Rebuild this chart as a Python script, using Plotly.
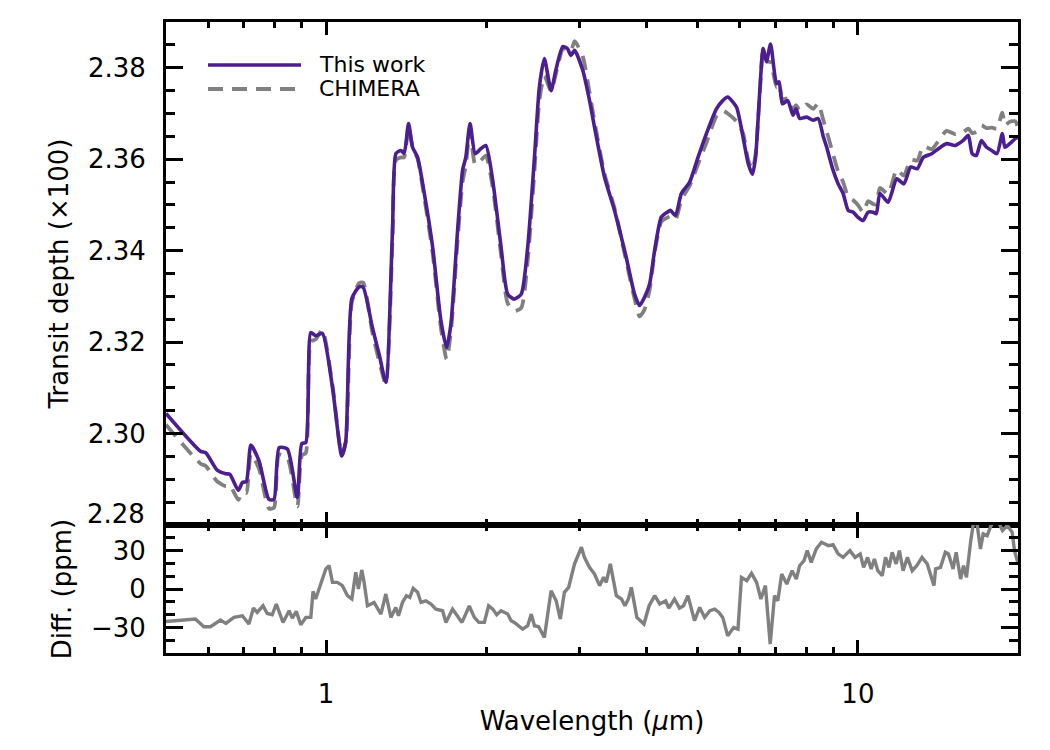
import plotly.graph_objects as go
import numpy as np

# ---------------- data ----------------
wavelength = [0.500, 0.581, 0.594, 0.624, 0.648, 0.659, 0.684, 0.696, 0.708, 0.722,
              0.748, 0.781, 0.798, 0.816, 0.846, 0.883, 0.900, 0.916, 0.936, 0.956,
              0.984, 1.028, 1.070, 1.089, 1.118, 1.154, 1.174, 1.222, 1.260, 1.295,
              1.333, 1.353, 1.382, 1.402, 1.429, 1.454, 1.486, 1.530, 1.586, 1.644,
              1.685, 1.717, 1.767, 1.806, 1.831, 1.865, 1.907, 1.954, 1.997, 2.057,
              2.133, 2.195, 2.258, 2.328, 2.394, 2.465, 2.518, 2.573, 2.649, 2.703,
              2.786, 2.842, 2.887, 2.933, 3.039, 3.128, 3.197, 3.338, 3.486, 3.668,
              3.802, 3.886, 3.969, 4.058, 4.147, 4.268, 4.380, 4.440, 4.540, 4.656,
              4.827, 5.004, 5.190, 5.420, 5.570, 5.690, 5.910, 6.080, 6.220, 6.334,
              6.420, 6.540, 6.635, 6.730, 6.850, 7.030, 7.110, 7.210, 7.380, 7.550,
              7.650, 7.770, 8.010, 8.240, 8.420, 8.610, 8.730, 8.980, 9.180, 9.380,
              9.590, 9.800, 10.00, 10.23, 10.45, 10.68, 10.83, 11.00, 11.40, 11.83,
              12.20, 12.57, 12.93, 13.27, 13.77, 14.17, 14.68, 15.23, 15.78, 16.13,
              16.40, 16.70, 17.07, 17.45, 17.85, 18.26, 18.69, 18.90, 19.30, 19.76,
              20.00]

this_work = [2.3044, 2.2961, 2.2958, 2.2920, 2.2912, 2.2911, 2.2876, 2.2893, 2.2895, 2.2975,
             2.2940, 2.2856, 2.2856, 2.2969, 2.2966, 2.2860, 2.2978, 2.2980, 2.3221, 2.3214,
             2.3219, 2.3101, 2.2951, 2.2984, 2.3295, 2.3321, 2.3320, 2.3232, 2.3170, 2.3112,
             2.3444, 2.3612, 2.3619, 2.3613, 2.3678, 2.3626, 2.3604, 2.3525, 2.3408, 2.3247,
             2.3188, 2.3240, 2.3444, 2.3576, 2.3604, 2.3678, 2.3612, 2.3623, 2.3630, 2.3554,
             2.3408, 2.3305, 2.3294, 2.3305, 2.3408, 2.3604, 2.3758, 2.3820, 2.3750, 2.3794,
             2.3846, 2.3842, 2.3827, 2.3838, 2.3794, 2.3729, 2.3670, 2.3561, 2.3488, 2.3385,
             2.3305, 2.3280, 2.3298, 2.3327, 2.3400, 2.3473, 2.3484, 2.3488, 2.3477, 2.3525,
             2.3550, 2.3604, 2.3656, 2.3710, 2.3728, 2.3736, 2.3714, 2.3649, 2.3590, 2.3567,
             2.3604, 2.3751, 2.3842, 2.3813, 2.3852, 2.3765, 2.3769, 2.3721, 2.3728, 2.3696,
             2.3710, 2.3689, 2.3692, 2.3685, 2.3689, 2.3649, 2.3627, 2.3576, 2.3546, 2.3525,
             2.3488, 2.3484, 2.3473, 2.3466, 2.3484, 2.3484, 2.3481, 2.3525, 2.3506, 2.3557,
             2.3546, 2.3583, 2.3579, 2.3604, 2.3612, 2.3623, 2.3634, 2.3630, 2.3641, 2.3652,
             2.3612, 2.3608, 2.3641, 2.3626, 2.3619, 2.3612, 2.3656, 2.3626, 2.3634, 2.3645,
             2.3649]

chimera = [2.3019, 2.2934, 2.2929, 2.2895, 2.2885, 2.2887, 2.2855, 2.2872, 2.2870, 2.2955,
           2.2923, 2.2836, 2.2838, 2.2954, 2.2947, 2.2840, 2.2952, 2.2958, 2.3201, 2.3206,
           2.3227, 2.3106, 2.2954, 2.2981, 2.3287, 2.3329, 2.3330, 2.3221, 2.3155, 2.3108,
           2.3424, 2.3598, 2.3604, 2.3604, 2.3672, 2.3626, 2.3601, 2.3516, 2.3395, 2.3231,
           2.3163, 2.3223, 2.3423, 2.3551, 2.3586, 2.3664, 2.3589, 2.3597, 2.3608, 2.3539,
           2.3391, 2.3285, 2.3268, 2.3275, 2.3379, 2.3575, 2.3729, 2.3782, 2.3749, 2.3785,
           2.3841, 2.3842, 2.3837, 2.3858, 2.3824, 2.3746, 2.3682, 2.3568, 2.3493, 2.3377,
           2.3295, 2.3256, 2.3271, 2.3314, 2.3395, 2.3463, 2.3472, 2.3475, 2.3468, 2.3511,
           2.3542, 2.3589, 2.3636, 2.3694, 2.3706, 2.3700, 2.3683, 2.3657, 2.3598, 2.3578,
           2.3610, 2.3745, 2.3842, 2.3815, 2.3812, 2.3758, 2.3764, 2.3731, 2.3733, 2.3708,
           2.3718, 2.3707, 2.3720, 2.3710, 2.3722, 2.3685, 2.3662, 2.3611, 2.3573, 2.3550,
           2.3517, 2.3510, 2.3500, 2.3484, 2.3508, 2.3502, 2.3501, 2.3537, 2.3524, 2.3577,
           2.3564, 2.3599, 2.3597, 2.3628, 2.3622, 2.3640, 2.3662, 2.3655, 2.3659, 2.3667,
           2.3657, 2.3660, 2.3674, 2.3668, 2.3669, 2.3667, 2.3702, 2.3674, 2.3682, 2.3683,
           2.3669]

diff_wavelength = [0.500, 0.568, 0.589, 0.606, 0.633, 0.648, 0.671, 0.696, 0.716, 0.730,
                   0.742, 0.761, 0.775, 0.792, 0.806, 0.830, 0.852, 0.864, 0.879, 0.896,
                   0.916, 0.936, 0.945, 0.956, 0.977, 0.999, 1.013, 1.028, 1.050, 1.073,
                   1.097, 1.118, 1.137, 1.150, 1.167, 1.179, 1.196, 1.231, 1.268, 1.295,
                   1.324, 1.352, 1.368, 1.392, 1.416, 1.437, 1.458, 1.486, 1.508, 1.540,
                   1.575, 1.609, 1.656, 1.680, 1.729, 1.767, 1.801, 1.859, 1.900, 1.937,
                   1.984, 2.021, 2.058, 2.093, 2.133, 2.195, 2.228, 2.259, 2.342, 2.394,
                   2.431, 2.465, 2.510, 2.573, 2.649, 2.708, 2.757, 2.806, 2.858, 2.932,
                   3.021, 3.060, 3.128, 3.197, 3.268, 3.325, 3.364, 3.423, 3.514, 3.593,
                   3.647, 3.702, 3.750, 3.840, 3.960, 4.050, 4.150, 4.240, 4.350, 4.410,
                   4.520, 4.620, 4.700, 4.790, 4.930, 5.040, 5.150, 5.270, 5.380, 5.480,
                   5.570, 5.690, 5.840, 5.950, 6.040, 6.180, 6.310, 6.450, 6.570, 6.700,
                   6.840, 6.970, 7.070, 7.190, 7.350, 7.520, 7.660, 7.770, 7.920, 8.030,
                   8.170, 8.350, 8.540, 8.800, 8.980, 9.180, 9.380, 9.660, 9.880, 10.10,
                   10.25, 10.43, 10.59, 10.74, 10.90, 11.11, 11.27, 11.44, 11.60, 11.80,
                   11.97, 12.16, 12.39, 12.65, 12.90, 13.20, 13.50, 13.90, 14.00, 14.30,
                   14.60, 14.80, 15.10, 15.30, 15.60, 15.80, 16.00, 16.30, 16.50, 16.70,
                   17.00, 17.20, 17.50, 17.80, 18.20, 18.70, 19.10, 19.50, 19.70, 20.00]

diff_ppm = [-25.4, -23.5, -29.5, -29.5, -24.3, -26.9, -22.2, -20.9, -27.4, -14.9,
            -18.3, -13.1, -19.1, -20.1, -11.7, -26.1, -17.0, -22.7, -17.5, -28.0,
            -22.2, -22.2, -1.9, -7.8, 3.9, 15.7, 18.2, 5.2, 5.2, 2.6,
            -5.2, -7.8, 13.0, 0.0, 14.9, 5.2, -13.1, -10.5, -19.6, -3.9,
            -22.2, -14.4, -20.9, -10.5, -5.2, -6.6, 0.5, -2.6, -10.5, -9.2,
            -11.7, -15.7, -17.0, -26.1, -15.7, -20.9, -26.1, -13.3, -22.2, -26.1,
            -26.1, -13.1, -15.7, -20.1, -17.0, -19.6, -24.8, -26.1, -31.3, -28.7,
            -19.6, -28.7, -29.5, -37.9, -1.3, -9.2, -23.5, -2.6, 1.3, 19.6,
            32.6, 24.7, 16.9, 11.7, 2.6, 9.1, 5.2, 19.6, -5.2, -7.8,
            -13.1, -7.8, 1.3, -22.2, -27.4, -13.1, -5.2, -11.7, -9.2, -14.9,
            -7.8, -14.9, -13.1, -5.2, -24.8, -14.4, -22.2, -17.0, -15.7, -18.3,
            -22.2, -36.6, -30.1, -31.3, 9.1, 6.5, 12.2, 5.2, -7.8, 2.6,
            -43.1, -5.2, -9.2, 11.7, 3.9, 14.3, 7.8, 18.2, 22.2, 30.0,
            20.8, 31.3, 36.5, 33.9, 34.7, 27.4, 24.7, 30.0, 24.7, 27.4,
            16.9, 24.7, 15.7, 23.5, 14.3, 10.4, 24.7, 16.9, 28.7, 19.6,
            30.0, 14.3, 24.7, 14.3, 18.2, 24.7, 19.6, 2.6, 15.7, 16.9,
            28.7, 27.4, 15.7, 28.7, 7.8, 18.2, 9.1, 37.8, 52.0, 55.0,
            31.3, 43.1, 41.7, 49.6, 56.0, 45.7, 49.6, 44.3, 30.0, 20.0]

top_ticks = [2.28, 2.30, 2.32, 2.34, 2.36, 2.38]
top_tick_text = ["", "2.30", "2.32", "2.34", "2.36", "2.38"]   # 2.28 placed separately (raised)
diff_ticks = [-30, 0, 30]
diff_tick_text = ["\u221230", "0", "30"]
x_major = [1, 10]
x_major_text = ["1", "10"]
x_minor = [0.6, 0.7, 0.8, 0.9, 2, 3, 4, 5, 6, 7, 8, 9, 20]

# ---------------- styling ----------------
PURPLE = "#4b1e91"
GRAY = "#808080"
FONT = "DejaVu Sans"
TICKFONT = 26
TITLEFONT = 26

fig = go.Figure()

fig.add_trace(go.Scatter(x=wavelength, y=chimera, mode="lines", name="CHIMERA",
                         line=dict(color=GRAY, width=3.8, dash="15px,9px",
                                   shape="spline", smoothing=0.6),
                         xaxis="x", yaxis="y", showlegend=False))
fig.add_trace(go.Scatter(x=wavelength, y=this_work, mode="lines", name="This work",
                         line=dict(color=PURPLE, width=3.6, shape="spline", smoothing=0.6),
                         xaxis="x", yaxis="y", showlegend=False))
fig.add_trace(go.Scatter(x=diff_wavelength, y=diff_ppm, mode="lines", name="Diff",
                         line=dict(color=GRAY, width=3.4),
                         xaxis="x2", yaxis="y2", showlegend=False))

xr = [np.log10(0.5), np.log10(20)]
split = 128 / 631

common_x = dict(type="log", range=xr, showline=True, linecolor="black", linewidth=3,
                mirror="allticks", ticks="inside", tickwidth=3, ticklen=13,
                tickcolor="black", tickvals=x_major, showgrid=False, zeroline=False,
                minor=dict(tickvals=x_minor, ticks="inside", ticklen=6, tickwidth=3,
                           tickcolor="black", showgrid=False))

fig.update_layout(
    width=1050, height=750,
    margin=dict(l=166, r=32, t=22, b=97),
    paper_bgcolor="white", plot_bgcolor="white",
    font=dict(family=FONT, size=24, color="black"),
    xaxis=dict(common_x, anchor="y", showticklabels=False, matches="x2"),
    yaxis=dict(domain=[split, 1], range=[2.28, 2.39], showline=True, linecolor="black",
               linewidth=3, mirror="allticks", ticks="inside", tickwidth=3, ticklen=17,
               tickcolor="black", tickvals=top_ticks, ticktext=top_tick_text,
               showgrid=False, zeroline=False, tickfont=dict(size=TICKFONT),
               ticklabelstandoff=12,
               title=dict(text="Transit depth (\u00d7100)", font=dict(size=TITLEFONT),
                          standoff=12),
               minor=dict(dtick=0.005, tick0=2.28, ticks="inside", ticklen=9, tickwidth=3,
                          tickcolor="black", showgrid=False)),
    xaxis2=dict(common_x, anchor="y2", ticktext=x_major_text, tickfont=dict(size=TICKFONT),
                ticklabelstandoff=16,
                title=dict(text="Wavelength (<i>\u03bc</i>m)", font=dict(size=TITLEFONT),
                           standoff=4)),
    yaxis2=dict(domain=[0, split], range=[-50, 50], showline=True, linecolor="black",
                linewidth=3, mirror="allticks", ticks="inside", tickwidth=3, ticklen=17,
                tickcolor="black", tickvals=diff_ticks, ticktext=diff_tick_text,
                showgrid=False, zeroline=False, tickfont=dict(size=TICKFONT),
                ticklabelstandoff=12,
                title=dict(text="Diff. (ppm)", font=dict(size=TITLEFONT), standoff=12),
                minor=dict(dtick=10, tick0=0, ticks="inside", ticklen=9, tickwidth=3,
                           tickcolor="black", showgrid=False)),
)

# raised "2.28" label, as in the original (avoids clashing with the "30" below it)
fig.add_annotation(xref="paper", yref="paper", x=-19 / 852, y=(653 - 514) / 631,
                   text="2.28", showarrow=False, xanchor="right", yanchor="middle",
                   font=dict(size=TICKFONT, family=FONT))

# legend drawn as in the original (long sample lines)
fig.add_shape(type="line", xref="paper", yref="paper", x0=(208 - 166) / 852, x1=(301 - 166) / 852,
              y0=(653 - 65) / 631, y1=(653 - 65) / 631, line=dict(color=PURPLE, width=3.6))
fig.add_shape(type="line", xref="paper", yref="paper", x0=(208 - 166) / 852, x1=(301 - 166) / 852,
              y0=(653 - 89) / 631, y1=(653 - 89) / 631, line=dict(color=GRAY, width=3.8, dash="15px,9px"))
fig.add_annotation(xref="paper", yref="paper", x=(317 - 166) / 852, y=(653 - 65) / 631,
                   text="This work", showarrow=False, xanchor="left", yanchor="middle",
                   font=dict(size=22, family=FONT))
fig.add_annotation(xref="paper", yref="paper", x=(317 - 166) / 852, y=(653 - 89) / 631,
                   text="CHIMERA", showarrow=False, xanchor="left", yanchor="middle",
                   font=dict(size=22, family=FONT))

fig.write_html("out.html")
